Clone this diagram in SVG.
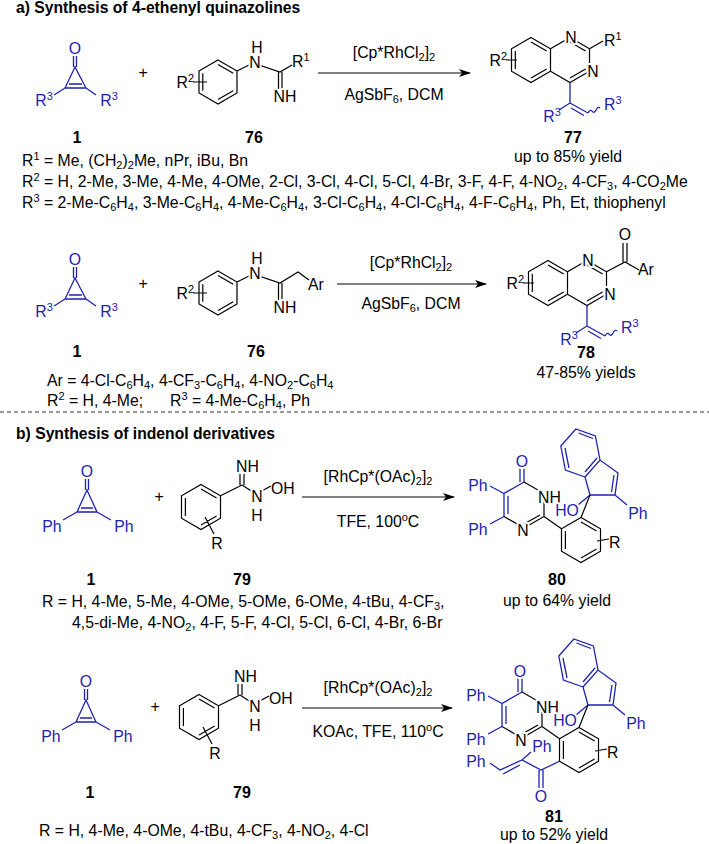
<svg xmlns="http://www.w3.org/2000/svg" width="709" height="844" viewBox="0 0 709 844">
<defs>
<style>
text{font-family:"Liberation Sans",Arial,sans-serif;font-size:15.8px;fill:#000}
.b{stroke:#000;stroke-width:1.2;fill:none}
.u{stroke:#1e22b0;stroke-width:1.3;fill:none}
.tb{fill:#1e22b0}
.h{stroke:#fff;stroke-width:4;paint-order:stroke;stroke-linejoin:round}
.n{font-weight:bold;font-size:16px}
.ttl{font-weight:bold;font-size:15.7px}
.s{font-size:11px}
.m{text-anchor:middle}
.e{text-anchor:end}
</style>
<marker id="ah" markerWidth="12" markerHeight="8" refX="11" refY="4" orient="auto" markerUnits="userSpaceOnUse"><path d="M0,0 L12,4 L0,8 L3,4 Z" fill="#000"/></marker>
</defs>
<rect width="709" height="844" fill="#fff"/>

<text class="ttl" x="16" y="13">a) Synthesis of 4-ethenyl quinazolines</text>

<g id="cp1a">
<path class="u" d="M73.5,56 V67 M76.5,56 V67 M75,67 L65,88 L86,88 Z M69,84 H82 M65,88 L54,95 M86,88 L96,95"/>
<text class="tb m" x="75" y="54" font-size="16">O</text>
<text class="tb m" x="44" y="106">R<tspan class="s" dy="-6">3</tspan></text>
<text class="tb m" x="109" y="106">R<tspan class="s" dy="-6">3</tspan></text>
<text class="n m" x="77" y="143">1</text>
</g>
<text class="m" x="143" y="78" font-size="17">+</text>

<g id="am76a">
<path class="b" d="M218,60 L237,71 L237,93 L218,104 L199,93 L199,71 Z M218,64.4 L233.2,73.2 M233.2,90.8 L218,99.6 M202.8,90.8 L202.8,73.2 M193,82 H207 M237,71 L253,63 M253,63 L280,72 L292,65 M278.5,72 V89 M282,72 V89"/>
<text class="e" x="194" y="88">R<tspan class="s" dy="-6">2</tspan></text>
<text class="m h" x="255" y="68">N</text>
<text class="m" x="257" y="53">H</text>
<text x="292" y="67">R<tspan class="s" dy="-6">1</tspan></text>
<text class="m h" x="285" y="102">NH</text>
<text class="n m" x="254" y="143">76</text>
</g>

<g id="cond1">
<text class="m" x="394" y="58">[Cp*RhCl<tspan class="s" dy="3">2</tspan><tspan dy="-3">]</tspan><tspan class="s" dy="3">2</tspan></text>
<text class="m" x="394" y="100">AgSbF<tspan class="s" dy="3">6</tspan><tspan dy="-3">, DCM</tspan></text>
</g>

<g id="p77">
<path class="b" d="M531,37.5 L550.5,48.75 L550.5,71.25 L531,82.5 L511.5,71.25 L511.5,48.75 Z M531,41.9 L546.7,51 M546.7,69 L531,78 M515.3,69 V51 M506,60 H517 M550.5,48.75 L570,37.5 L589.5,48.75 L589.5,71.25 L570,82.5 L550.5,71.25 M570,42 L585.6,51 M585.6,69 L570,78 M589.5,48.75 L603,41"/>
<path class="u" d="M570,82.5 V103 L559,110 M570,103 L588,113 M571,108 L584,115.5 M588,113 q2,-4 4,-2 q2,3 4,-1 q2,-4 4,-2"/>
<text class="e" x="507" y="66">R<tspan class="s" dy="-6">2</tspan></text>
<text class="m h" x="571" y="43">N</text>
<text class="m h" x="593" y="77">N</text>
<text x="604" y="46">R<tspan class="s" dy="-6">1</tspan></text>
<text class="tb m" x="552" y="122">R<tspan class="s" dy="-6">3</tspan></text>
<text class="tb" x="604" y="110">R<tspan class="s" dy="-6">3</tspan></text>
<text class="n m" x="573" y="143">77</text>
<text class="m" x="568" y="162">up to 85% yield</text>
</g>

<g id="subs-a1">
<text x="22" y="166">R<tspan class="s" dy="-6">1</tspan><tspan dy="6"> = Me, (CH</tspan><tspan class="s" dy="3">2</tspan><tspan dy="-3">)</tspan><tspan class="s" dy="3">2</tspan><tspan dy="-3">Me, nPr, iBu, Bn</tspan></text>
<text x="22" y="187">R<tspan class="s" dy="-6">2</tspan><tspan dy="6"> = H, 2-Me, 3-Me, 4-Me, 4-OMe, 2-Cl, 3-Cl, 4-Cl, 5-Cl, 4-Br, 3-F, 4-F, 4-NO</tspan><tspan class="s" dy="3">2</tspan><tspan dy="-3">, 4-CF</tspan><tspan class="s" dy="3">3</tspan><tspan dy="-3">, 4-CO</tspan><tspan class="s" dy="3">2</tspan><tspan dy="-3">Me</tspan></text>
<text x="22" y="208">R<tspan class="s" dy="-6">3</tspan><tspan dy="6"> = 2-Me-C</tspan><tspan class="s" dy="3">6</tspan><tspan dy="-3">H</tspan><tspan class="s" dy="3">4</tspan><tspan dy="-3">, 3-Me-C</tspan><tspan class="s" dy="3">6</tspan><tspan dy="-3">H</tspan><tspan class="s" dy="3">4</tspan><tspan dy="-3">, 4-Me-C</tspan><tspan class="s" dy="3">6</tspan><tspan dy="-3">H</tspan><tspan class="s" dy="3">4</tspan><tspan dy="-3">, 3-Cl-C</tspan><tspan class="s" dy="3">6</tspan><tspan dy="-3">H</tspan><tspan class="s" dy="3">4</tspan><tspan dy="-3">, 4-Cl-C</tspan><tspan class="s" dy="3">6</tspan><tspan dy="-3">H</tspan><tspan class="s" dy="3">4</tspan><tspan dy="-3">, 4-F-C</tspan><tspan class="s" dy="3">6</tspan><tspan dy="-3">H</tspan><tspan class="s" dy="3">4</tspan><tspan dy="-3">, Ph, Et, thiophenyl</tspan></text>
</g>

<g id="cp1b" transform="translate(0,211)">
<path class="u" d="M73.5,56 V67 M76.5,56 V67 M75,67 L65,88 L86,88 Z M69,84 H82 M65,88 L54,95 M86,88 L96,95"/>
<text class="tb m" x="75" y="54" font-size="16">O</text>
<text class="tb m" x="44" y="106">R<tspan class="s" dy="-6">3</tspan></text>
<text class="tb m" x="109" y="106">R<tspan class="s" dy="-6">3</tspan></text>
<text class="n m" x="77" y="146">1</text>
</g>
<text class="m" x="143" y="289" font-size="17">+</text>

<g id="am76b" transform="translate(0,211)">
<path class="b" d="M218,60 L237,71 L237,93 L218,104 L199,93 L199,71 Z M218,64.4 L233.2,73.2 M233.2,90.8 L218,99.6 M202.8,90.8 L202.8,73.2 M193,82 H207 M237,71 L253,63 M253,63 L280,72 L298,61 L309,69 M278.5,72 V89 M282,72 V89"/>
<text class="e" x="194" y="88">R<tspan class="s" dy="-6">2</tspan></text>
<text class="m h" x="255" y="68">N</text>
<text class="m" x="257" y="53">H</text>
<text x="308" y="79">Ar</text>
<text class="m h" x="285" y="102">NH</text>
<text class="n m" x="256" y="146">76</text>
</g>

<g id="cond2">
<text class="m" x="411" y="268">[Cp*RhCl<tspan class="s" dy="3">2</tspan><tspan dy="-3">]</tspan><tspan class="s" dy="3">2</tspan></text>
<text class="m" x="411" y="309">AgSbF<tspan class="s" dy="3">6</tspan><tspan dy="-3">, DCM</tspan></text>
</g>

<g id="p78" transform="translate(17,223)">
<path class="b" d="M531,37.5 L550.5,48.75 L550.5,71.25 L531,82.5 L511.5,71.25 L511.5,48.75 Z M531,41.9 L546.7,51 M546.7,69 L531,78 M515.3,69 V51 M506,60 H517 M550.5,48.75 L570,37.5 L589.5,48.75 L589.5,71.25 L570,82.5 L550.5,71.25 M570,42 L585.6,51 M585.6,69 L570,78 M589.5,48.75 L608,39 L622,47 M606,39 V20 M610,39 V20"/>
<path class="u" d="M570,82.5 V103 L559,110 M570,103 L588,113 M571,108 L584,115.5 M588,113 q2,-4 4,-2 q2,3 4,-1 q2,-4 4,-2"/>
<text class="e" x="507" y="66">R<tspan class="s" dy="-6">2</tspan></text>
<text class="m h" x="571" y="43">N</text>
<text class="m h" x="593" y="77">N</text>
<text class="m h" x="608" y="17">O</text>
<text x="621" y="52">Ar</text>
<text class="tb m" x="552" y="122">R<tspan class="s" dy="-6">3</tspan></text>
<text class="tb" x="604" y="110">R<tspan class="s" dy="-6">3</tspan></text>
<text class="n m" x="569" y="135">78</text>
<text class="m" x="569" y="155">47-85% yields</text>
</g>

<g id="subs-a2">
<text x="47" y="386">Ar = 4-Cl-C<tspan class="s" dy="3">6</tspan><tspan dy="-3">H</tspan><tspan class="s" dy="3">4</tspan><tspan dy="-3">, 4-CF</tspan><tspan class="s" dy="3">3</tspan><tspan dy="-3">-C</tspan><tspan class="s" dy="3">6</tspan><tspan dy="-3">H</tspan><tspan class="s" dy="3">4</tspan><tspan dy="-3">, 4-NO</tspan><tspan class="s" dy="3">2</tspan><tspan dy="-3">-C</tspan><tspan class="s" dy="3">6</tspan><tspan dy="-3">H</tspan><tspan class="s" dy="3">4</tspan></text>
<text x="47" y="406">R<tspan class="s" dy="-6">2</tspan><tspan dy="6"> = H, 4-Me;</tspan></text>
<text x="170" y="406">R<tspan class="s" dy="-6">3</tspan><tspan dy="6"> = 4-Me-C</tspan><tspan class="s" dy="3">6</tspan><tspan dy="-3">H</tspan><tspan class="s" dy="3">4</tspan><tspan dy="-3">, Ph</tspan></text>
</g>

<line x1="0" y1="412" x2="709" y2="412" stroke="#333" stroke-width="1" stroke-dasharray="4 3"/>

<text class="ttl" x="16" y="439">b) Synthesis of indenol derivatives</text>

<g id="cp1c">
<path class="u" d="M85.5,479 V490 M88.5,479 V490 M87,490 L77,512 L97,512 Z M81,508 H93 M77,512 L63,520 M97,512 L111,520"/>
<text class="tb m" x="87" y="477" font-size="16">O</text>
<text class="tb m" x="52" y="532">Ph</text>
<text class="tb m" x="124" y="532">Ph</text>
<text class="n m" x="91" y="585">1</text>
</g>
<text class="m" x="159" y="502" font-size="17">+</text>

<g id="ox79a">
<path class="b" d="M201,484.5 L220.5,495.75 L220.5,518.25 L201,529.5 L181.5,518.25 L181.5,495.75 Z M201,489 L216.6,498 M216.6,516 L201,525 M185.4,516 V498 M220.5,495.75 L242,485 M240,485 V474 M244,485 V474 M242,485 L256,494 L271,486 M205,517 L214,534"/>
<text x="236" y="472">NH</text>
<text class="m h" x="257" y="502">N</text>
<text class="m" x="257" y="521">H</text>
<text x="271" y="494">OH</text>
<text class="m" x="217" y="549">R</text>
<text class="n m" x="242" y="585">79</text>
</g>

<g id="cond3">
<line class="b" x1="302" y1="497" x2="454" y2="497" marker-end="url(#ah)"/>
<text class="m" x="378" y="482">[RhCp*(OAc)<tspan class="s" dy="3">2</tspan><tspan dy="-3">]</tspan><tspan class="s" dy="3">2</tspan></text>
<text class="m" x="378" y="527">TFE, 100<tspan class="s" dy="-6">o</tspan><tspan dy="6">C</tspan></text>
</g>

<g id="p80">
<path class="u" d="M524,482 V468 M520,482 V468 M524,482 L504,493.5 L504,516.5 M508,496 V514 M504,493.5 L490,486 M504,516.5 L490,524 M590,495 L585,477 L600,460 L618,473 L615,495 Z M614,475 L611.5,492 M585,477 L565.4,470 L560.8,446 L575.8,429 L595.4,436 L600,460 M569,468 L565,448 M578.5,433 L593,438.5 M597,458 L585,472 M615,495 L627,505 M590,495 L578,505"/>
<path class="b" d="M524,482 L544,493.5 L544,516.5 L524,528 L504,516.5 M540,515 L524,524 M544,516.5 L561.5,528.75 M581,517.5 L600.5,528.75 L600.5,551.25 L581,562.5 L561.5,551.25 L561.5,528.75 Z M581,522 L596.6,531 M596.6,549 L581,558 M565.4,549 V531 M581,517.5 L590,495 M597,541 L609,539"/>
<text class="tb m h" x="522" y="467" font-size="16">O</text>
<text class="h" x="538" y="503">NH</text>
<text class="m h" x="523" y="536">N</text>
<text class="tb m" x="478" y="491">Ph</text>
<text class="tb m" x="478" y="535">Ph</text>
<text class="tb m h" x="567" y="516">HO</text>
<text class="tb m" x="638" y="519">Ph</text>
<text x="609" y="548">R</text>
<text class="n m" x="557" y="585">80</text>
<text class="m" x="557" y="606">up to 64% yield</text>
</g>

<g id="subs-b1">
<text x="42" y="607">R = H, 4-Me, 5-Me, 4-OMe, 5-OMe, 6-OMe, 4-tBu, 4-CF<tspan class="s" dy="3">3</tspan><tspan dy="-3">,</tspan></text>
<text x="72" y="628">4,5-di-Me, 4-NO<tspan class="s" dy="3">2</tspan><tspan dy="-3">, 4-F, 5-F, 4-Cl, 5-Cl, 6-Cl, 4-Br, 6-Br</tspan></text>
</g>

<g id="cp1d" transform="translate(-1,210)">
<path class="u" d="M85.5,479 V490 M88.5,479 V490 M87,490 L77,512 L97,512 Z M81,508 H93 M77,512 L63,520 M97,512 L111,520"/>
<text class="tb m" x="87" y="477" font-size="16">O</text>
<text class="tb m" x="52" y="532">Ph</text>
<text class="tb m" x="124" y="532">Ph</text>
<text class="n m" x="91" y="588">1</text>
</g>
<text class="m" x="155" y="712" font-size="17">+</text>

<g id="ox79b" transform="translate(-2,210)">
<path class="b" d="M201,484.5 L220.5,495.75 L220.5,518.25 L201,529.5 L181.5,518.25 L181.5,495.75 Z M201,489 L216.6,498 M216.6,516 L201,525 M185.4,516 V498 M220.5,495.75 L242,485 M240,485 V474 M244,485 V474 M242,485 L256,494 L271,486 M205,517 L214,534"/>
<text x="236" y="472">NH</text>
<text class="m h" x="257" y="502">N</text>
<text class="m" x="257" y="521">H</text>
<text x="271" y="494">OH</text>
<text class="m" x="217" y="549">R</text>
<text class="n m" x="244" y="588">79</text>
</g>

<g id="cond4">
<line class="b" x1="302" y1="708" x2="452" y2="708" marker-end="url(#ah)"/>
<text class="m" x="378" y="693">[RhCp*(OAc)<tspan class="s" dy="3">2</tspan><tspan dy="-3">]</tspan><tspan class="s" dy="3">2</tspan></text>
<text class="m" x="378" y="737">KOAc, TFE, 110<tspan class="s" dy="-6">o</tspan><tspan dy="6">C</tspan></text>
</g>

<g id="p81">
<g transform="translate(-2,210)">
<path class="u" d="M524,482 V468 M520,482 V468 M524,482 L504,493.5 L504,516.5 M508,496 V514 M504,493.5 L490,486 M504,516.5 L490,524 M590,495 L585,477 L600,460 L618,473 L615,495 Z M614,475 L611.5,492 M585,477 L565.4,470 L560.8,446 L575.8,429 L595.4,436 L600,460 M569,468 L565,448 M578.5,433 L593,438.5 M597,458 L585,472 M615,495 L627,505 M590,495 L578,505"/>
<path class="b" d="M524,482 L544,493.5 L544,516.5 L524,528 L504,516.5 M540,515 L524,524 M544,516.5 L561.5,528.75 M581,517.5 L600.5,528.75 L600.5,551.25 L581,562.5 L561.5,551.25 L561.5,528.75 Z M581,522 L596.6,531 M596.6,549 L581,558 M565.4,549 V531 M581,517.5 L590,495 M597,541 L609,539"/>
<path class="u" d="M561.5,551.25 L543,560 L524,550 L502,560 L492,553 M524,550 L533,542 M522,555 L505,564 M541,560 V578 M545,560 V578"/>
<text class="tb m h" x="522" y="467" font-size="16">O</text>
<text class="h" x="538" y="503">NH</text>
<text class="m h" x="523" y="536">N</text>
<text class="tb m" x="478" y="491">Ph</text>
<text class="tb m" x="478" y="535">Ph</text>
<text class="tb m h" x="567" y="516">HO</text>
<text class="tb m" x="638" y="519">Ph</text>
<text x="609" y="548">R</text>
<text class="tb m h" x="544" y="542">Ph</text>
<text class="tb m" x="478" y="557">Ph</text>
<text class="tb m h" x="543" y="592" font-size="16">O</text>
</g>
<text class="n m" x="554" y="822">81</text>
<text class="m" x="554" y="840">up to 52% yield</text>
</g>

<text x="39" y="836">R = H, 4-Me, 4-OMe, 4-tBu, 4-CF<tspan class="s" dy="3">3</tspan><tspan dy="-3">, 4-NO</tspan><tspan class="s" dy="3">2</tspan><tspan dy="-3">, 4-Cl</tspan></text>

<g id="connectors">
<line class="b" x1="318" y1="73" x2="470" y2="73" marker-end="url(#ah)"/>
<line class="b" x1="337" y1="284" x2="486" y2="284" marker-end="url(#ah)"/>
</g>
</svg>
